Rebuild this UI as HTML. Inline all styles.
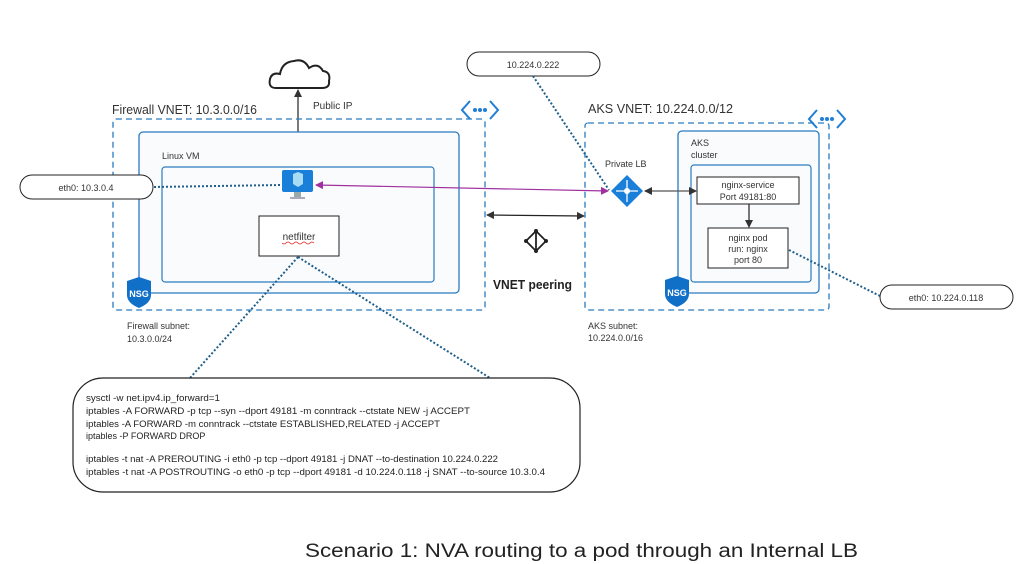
<!DOCTYPE html>
<html><head><style>
html,body{margin:0;padding:0;background:#fff}
svg{display:block;font-family:"Liberation Sans","DejaVu Sans",sans-serif}
</style></head><body>
<svg width="1021" height="564" viewBox="0 0 1021 564" xmlns="http://www.w3.org/2000/svg">
<defs>
<marker id="ah" markerWidth="8" markerHeight="8" refX="7" refY="4" orient="auto-start-reverse" markerUnits="userSpaceOnUse"><path d="M0,0 L8,4 L0,8 z" fill="#333"/></marker>
<marker id="ap" markerWidth="8" markerHeight="8" refX="7" refY="4" orient="auto-start-reverse" markerUnits="userSpaceOnUse"><path d="M0,0 L8,4 L0,8 z" fill="#a030a0"/></marker>
<g id="dots"><path d="M8,0 L0,9 L8,18 M28,0 L36,9 L28,18" fill="none" stroke="#1f7fd6" stroke-width="2"/><circle cx="13" cy="9" r="2" fill="#1f7fd6"/><circle cx="18" cy="9" r="2" fill="#1f7fd6"/><circle cx="23" cy="9" r="2" fill="#1f7fd6"/></g>
<g id="nsg"><path d="M12,0 L24,4 L24,18 Q24,26 12,31 Q0,26 0,18 L0,4 Z" fill="#1070c8"/><text x="12" y="20" font-size="9" fill="#fff" text-anchor="middle" font-weight="bold">NSG</text></g>
</defs>

<path d="M276,88 Q268,88 270,79 Q272,72 280,74 Q282,62 294,61 Q304,58 309,68 Q318,62 323,71 Q331,72 329,81 Q330,88 322,88 Z" fill="#fff" stroke="#222" stroke-width="2"/>
<line x1="298" y1="90" x2="298" y2="168" stroke="#333" stroke-width="1.3" marker-start="url(#ah)" marker-end="url(#ah)"/>
<text x="313" y="109" font-size="10" fill="#333">Public IP</text>

<text x="112" y="114" font-size="13" fill="#333" textLength="145" lengthAdjust="spacingAndGlyphs">Firewall VNET: 10.3.0.0/16</text>
<use href="#dots" x="462" y="101"/>
<rect x="113" y="119" width="372" height="191" rx="3" fill="none" stroke="#2a7bc0" stroke-width="1.3" stroke-dasharray="6,4"/>
<rect x="139" y="132" width="320" height="161" rx="4" fill="#fafbfd" stroke="#2a7bc0" stroke-width="1.3"/>
<text x="162" y="159" font-size="9" fill="#333">Linux VM</text>
<rect x="162" y="167" width="272" height="115" rx="3" fill="#fafbfd" stroke="#2a7bc0" stroke-width="1.2"/>
<use href="#nsg" x="127" y="277"/>
<rect x="282" y="170" width="31" height="22" rx="2" fill="#1a7fd8"/>
<path d="M293,174 L298,172 L303,174 L303,184 L298,187 L293,184 Z" fill="#a8dcf5"/>
<rect x="294" y="192" width="7" height="5" fill="#9aa"/>
<rect x="290" y="197" width="15" height="2" fill="#aab"/>
<rect x="259" y="216" width="80" height="40" fill="#fff" stroke="#222" stroke-width="1"/>
<text x="299" y="240" font-size="10" fill="#333" text-anchor="middle">netfilter</text>
<path d="M282,243 q2,2 4,0 t4,0 t4,0 t4,0 t4,0 t4,0 t4,0 t4,0" fill="none" stroke="#d22" stroke-width="0.8"/>
<text x="127" y="329" font-size="9" fill="#333">Firewall subnet:</text>
<text x="127" y="342" font-size="9" fill="#333">10.3.0.0/24</text>

<text x="588" y="113" font-size="13" fill="#333" textLength="145" lengthAdjust="spacingAndGlyphs">AKS VNET: 10.224.0.0/12</text>
<use href="#dots" x="809" y="110"/>
<rect x="585" y="123" width="244" height="187" rx="3" fill="none" stroke="#2a7bc0" stroke-width="1.3" stroke-dasharray="6,4"/>
<rect x="678" y="131" width="141" height="162" rx="4" fill="#fafbfd" stroke="#2a7bc0" stroke-width="1.3"/>
<text x="691" y="146" font-size="9" fill="#333">AKS</text>
<text x="691" y="158" font-size="9" fill="#333">cluster</text>
<rect x="691" y="165" width="120" height="117" rx="3" fill="#fafbfd" stroke="#2a7bc0" stroke-width="1.2"/>
<use href="#nsg" x="665" y="276"/>
<rect x="697" y="177" width="102" height="27" fill="#fff" stroke="#222" stroke-width="1"/>
<text x="748" y="188" font-size="9" fill="#333" text-anchor="middle">nginx-service</text>
<text x="748" y="200" font-size="9" fill="#333" text-anchor="middle">Port 49181:80</text>
<line x1="749" y1="204" x2="749" y2="227" stroke="#222" stroke-width="1.2" marker-end="url(#ah)"/>
<rect x="708" y="228" width="80" height="40" fill="#fff" stroke="#222" stroke-width="1"/>
<text x="748" y="241" font-size="9" fill="#333" text-anchor="middle">nginx pod</text>
<text x="748" y="252" font-size="9" fill="#333" text-anchor="middle">run: nginx</text>
<text x="748" y="263" font-size="9" fill="#333" text-anchor="middle">port 80</text>
<text x="605" y="167" font-size="9" fill="#333">Private LB</text>
<path d="M627,175 L643,191 L627,207 L611,191 Z" fill="#1a7fd8"/>
<circle cx="627" cy="191" r="3" fill="#fff"/>
<path d="M627,180 V202 M616,191 H638" stroke="#fff" stroke-width="1.3"/>
<line x1="645" y1="191" x2="696" y2="191" stroke="#555" stroke-width="1.2" marker-start="url(#ah)" marker-end="url(#ah)"/>
<text x="588" y="329" font-size="9" fill="#333">AKS subnet:</text>
<text x="588" y="341" font-size="9" fill="#333">10.224.0.0/16</text>

<line x1="487" y1="215" x2="584" y2="216" stroke="#222" stroke-width="1.2" marker-start="url(#ah)" marker-end="url(#ah)"/>
<path d="M536,231 L546,241 L536,251 L526,241 Z M536,231 V251" fill="none" stroke="#222" stroke-width="1.8"/>
<g fill="#222"><circle cx="536" cy="231" r="2"/><circle cx="546" cy="241" r="2"/><circle cx="536" cy="251" r="2"/><circle cx="526" cy="241" r="2"/></g>
<text x="493" y="289" font-size="13" font-weight="bold" fill="#222" textLength="79" lengthAdjust="spacingAndGlyphs">VNET peering</text>

<line x1="316" y1="185" x2="608" y2="191" stroke="#a030a0" stroke-width="1.2" marker-start="url(#ap)" marker-end="url(#ap)"/>

<rect x="20" y="175" width="133" height="24" rx="12" fill="#fff" stroke="#222" stroke-width="1"/>
<text x="86" y="191" font-size="9" fill="#333" text-anchor="middle">eth0: 10.3.0.4</text>
<rect x="467" y="52" width="133" height="24" rx="12" fill="#fff" stroke="#222" stroke-width="1"/>
<text x="533" y="68" font-size="9" fill="#333" text-anchor="middle">10.224.0.222</text>
<rect x="880" y="285" width="133" height="24" rx="12" fill="#fff" stroke="#222" stroke-width="1"/>
<text x="946" y="301" font-size="9" fill="#333" text-anchor="middle">eth0: 10.224.0.118</text>

<g stroke="#1f5f8a" stroke-width="2" stroke-dasharray="2,2" fill="none">
<line x1="154" y1="187" x2="280" y2="185"/>
<line x1="533" y1="76" x2="609" y2="190"/>
<line x1="789" y1="250" x2="880" y2="296"/>
<line x1="298" y1="257" x2="190" y2="378"/>
<line x1="298" y1="257" x2="490" y2="378"/>
</g>

<rect x="73" y="378" width="507" height="114" rx="30" fill="#fff" stroke="#222" stroke-width="1.2"/>
<g font-size="9" fill="#222">
<text x="86" y="401" textLength="134" lengthAdjust="spacingAndGlyphs">sysctl -w net.ipv4.ip_forward=1</text>
<text x="86" y="414" textLength="384" lengthAdjust="spacingAndGlyphs">iptables -A FORWARD -p tcp --syn --dport 49181 -m conntrack --ctstate NEW -j ACCEPT</text>
<text x="86" y="427" textLength="354" lengthAdjust="spacingAndGlyphs">iptables -A FORWARD -m conntrack --ctstate ESTABLISHED,RELATED -j ACCEPT</text>
<text x="86" y="439">iptables -P FORWARD DROP</text>
<text x="86" y="462" textLength="412" lengthAdjust="spacingAndGlyphs">iptables -t nat -A PREROUTING -i eth0 -p tcp --dport 49181 -j DNAT --to-destination 10.224.0.222</text>
<text x="86" y="475" textLength="459" lengthAdjust="spacingAndGlyphs">iptables -t nat -A POSTROUTING -o eth0 -p tcp --dport 49181 -d 10.224.0.118 -j SNAT --to-source 10.3.0.4</text>
</g>

<text x="305" y="557" font-size="19" fill="#222" textLength="553" lengthAdjust="spacingAndGlyphs">Scenario 1: NVA routing to a pod through an Internal LB</text>
</svg>
</body></html>
